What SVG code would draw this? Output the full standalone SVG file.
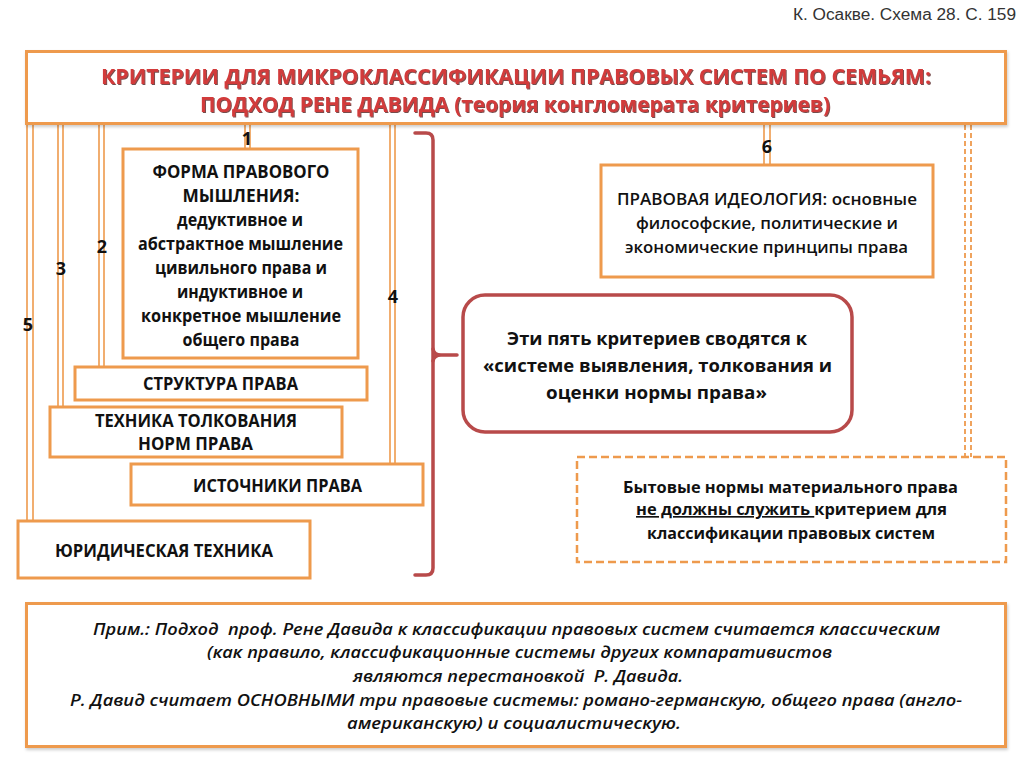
<svg xmlns="http://www.w3.org/2000/svg" width="1024" height="767" viewBox="0 0 1024 767">
<defs>
<filter id="sh" x="-3%" y="-10%" width="106%" height="125%"><feDropShadow dx="1" dy="2" stdDeviation="1.5" flood-color="#000" flood-opacity="0.2"/></filter>
<filter id="tsh" x="-5%" y="-50%" width="110%" height="200%"><feDropShadow dx="1" dy="1" stdDeviation="0.7" flood-color="#4a0d0d" flood-opacity="0.75"/></filter>
</defs>
<style>
.box{fill:#fff;stroke:#ee9a4d;stroke-width:3}
.dbl{fill:#fff;stroke:#ee9a4d;stroke-width:1.6}
.dash{fill:#fff;stroke:#ee9a4d;stroke-width:2.5;stroke-dasharray:8 4}
.dashl{fill:none;stroke:#ee9a4d;stroke-width:1.8;stroke-dasharray:5 3}
.br{fill:none;stroke:#b84a4a;stroke-width:3.5;stroke-linecap:round;stroke-linejoin:round}
.t{font-family:"Open Sans","Noto Sans",sans-serif;font-weight:700;fill:#111;text-anchor:middle}
.m{font-weight:600}
.s17{font-size:17px}
.s18{font-size:18px}
.s16{font-size:16.5px}
.num{font-family:"Open Sans","Noto Sans",sans-serif;font-weight:700;font-size:18px;fill:#111;text-anchor:middle}
.title{font-family:"Open Sans","Noto Sans",sans-serif;font-weight:700;font-size:21.5px;fill:#d23a3a;text-anchor:middle}
.note{font-family:"Open Sans","Noto Sans",sans-serif;font-style:italic;font-weight:600;font-size:16.5px;fill:#111;text-anchor:middle}
</style>
<rect x="0" y="0" width="1024" height="767" fill="#fff"/>
<text x="793" y="20" textLength="223" lengthAdjust="spacingAndGlyphs" font-family="Liberation Sans, Arial, sans-serif" font-size="16" fill="#333">К. Осакве. Схема 28. С. 159</text>

<g id="connectors">
<rect class="dbl" x="27" y="124" width="6" height="397"/>
<rect class="dbl" x="58" y="124" width="5" height="283"/>
<rect class="dbl" x="99" y="124" width="5" height="243"/>
<rect class="dbl" x="245" y="124" width="5" height="25"/>
<rect class="dbl" x="390" y="124" width="5" height="340"/>
<rect class="dbl" x="764" y="124" width="6" height="41"/>
<line class="dashl" x1="965" y1="125" x2="965" y2="457"/>
<line class="dashl" x1="971" y1="125" x2="971" y2="457"/>
<path class="br" d="M415 133 L426 133 Q433 133 433 140 L433 568 Q433 575 426 575 L415 575"/>
<path class="br" d="M433 349 Q434 355 441 355 L457 355 M433 361 Q434 355 441 355"/>
</g>

<g id="title">
<rect x="26.5" y="51.5" width="979" height="72" fill="#fff" stroke="#ee9a4d" stroke-width="3" filter="url(#sh)"/>
<g filter="url(#tsh)">
<text class="title" x="516" y="84" textLength="830" lengthAdjust="spacingAndGlyphs">КРИТЕРИИ ДЛЯ МИКРОКЛАССИФИКАЦИИ ПРАВОВЫХ СИСТЕМ ПО СЕМЬЯМ:</text>
<text class="title" x="515" y="112" textLength="630" lengthAdjust="spacingAndGlyphs">ПОДХОД РЕНЕ ДАВИДА (теория конгломерата критериев)</text>
</g>
</g>

<g id="labels">
<text class="num" x="247" y="145">1</text>
<text class="num" x="102" y="253">2</text>
<text class="num" x="61" y="275">3</text>
<text class="num" x="393" y="303">4</text>
<text class="num" x="28" y="331">5</text>
<text class="num" x="767" y="153">6</text>
</g>

<g id="node-forma">
<rect class="box" x="123" y="149" width="235" height="209"/>
<text class="t s18" x="241" y="178" textLength="177" lengthAdjust="spacingAndGlyphs">ФОРМА ПРАВОВОГО</text>
<text class="t s18" x="241" y="202" textLength="117" lengthAdjust="spacingAndGlyphs">МЫШЛЕНИЯ:</text>
<text class="t s18" x="240" y="226" textLength="126" lengthAdjust="spacingAndGlyphs">дедуктивное и</text>
<text class="t s18" x="240.5" y="250" textLength="205" lengthAdjust="spacingAndGlyphs">абстрактное мышление</text>
<text class="t s18" x="241" y="274" textLength="172" lengthAdjust="spacingAndGlyphs">цивильного права и</text>
<text class="t s18" x="240" y="298" textLength="126" lengthAdjust="spacingAndGlyphs">индуктивное и</text>
<text class="t s18" x="241" y="322" textLength="200" lengthAdjust="spacingAndGlyphs">конкретное мышление</text>
<text class="t s18" x="241" y="346" textLength="117" lengthAdjust="spacingAndGlyphs">общего права</text>
</g>

<g id="node-struktura">
<rect class="box" x="75" y="367" width="292" height="33"/>
<text class="t s17" x="220.5" y="390" textLength="155" lengthAdjust="spacingAndGlyphs">СТРУКТУРА ПРАВА</text>
</g>

<g id="node-tehnika">
<rect class="box" x="50" y="407" width="292" height="50"/>
<text class="t s17" x="196" y="427" textLength="202" lengthAdjust="spacingAndGlyphs">ТЕХНИКА ТОЛКОВАНИЯ</text>
<text class="t s17" x="195.5" y="450" textLength="115" lengthAdjust="spacingAndGlyphs">НОРМ ПРАВА</text>
</g>

<g id="node-istochniki">
<rect class="box" x="131" y="464" width="292" height="41"/>
<text class="t s17" x="277.5" y="492" textLength="169" lengthAdjust="spacingAndGlyphs">ИСТОЧНИКИ ПРАВА</text>
</g>

<g id="node-yurtehnika">
<rect class="box" x="18" y="521" width="292" height="57"/>
<text class="t s17" x="164" y="557" textLength="218" lengthAdjust="spacingAndGlyphs">ЮРИДИЧЕСКАЯ ТЕХНИКА</text>
</g>

<g id="node-ideologiya">
<rect class="box" x="601" y="165" width="332" height="112"/>
<text class="t m s16" x="767" y="205" textLength="300" lengthAdjust="spacingAndGlyphs">ПРАВОВАЯ ИДЕОЛОГИЯ: основные</text>
<text class="t m s16" x="767" y="229" textLength="262" lengthAdjust="spacingAndGlyphs">философские, политические и</text>
<text class="t m s16" x="766.5" y="253" textLength="283" lengthAdjust="spacingAndGlyphs">экономические принципы права</text>
</g>

<g id="node-summary">
<rect x="463" y="295" width="389" height="137" rx="22" ry="22" fill="#fff" stroke="#b84a4a" stroke-width="3.5"/>
<text class="t s18" x="657" y="345" textLength="300" lengthAdjust="spacingAndGlyphs">Эти пять критериев сводятся к</text>
<text class="t s18" x="657.5" y="372" textLength="349" lengthAdjust="spacingAndGlyphs">«системе выявления, толкования и</text>
<text class="t s18" x="656.5" y="399" textLength="221" lengthAdjust="spacingAndGlyphs">оценки нормы права»</text>
</g>

<g id="node-bytovye">
<rect class="dash" x="577" y="457" width="429" height="105"/>
<text class="t s16" x="790.5" y="493" textLength="335" lengthAdjust="spacingAndGlyphs">Бытовые нормы материального права</text>
<text class="t s16" x="791.5" y="515" textLength="311" lengthAdjust="spacingAndGlyphs" xml:space="preserve"><tspan text-decoration="underline">не должны служить </tspan>критерием для</text>
<text class="t s16" x="791" y="539" textLength="288" lengthAdjust="spacingAndGlyphs">классификации правовых систем</text>
</g>

<g id="node-note">
<rect x="26.5" y="603.5" width="979" height="143" fill="#fff" stroke="#ee9a4d" stroke-width="3" filter="url(#sh)"/>
<text class="note" x="516.5" y="635" textLength="847" lengthAdjust="spacingAndGlyphs" xml:space="preserve">Прим.: Подход  проф. Рене Давида к классификации правовых систем считается классическим</text>
<text class="note" x="519.5" y="658" textLength="625" lengthAdjust="spacingAndGlyphs">(как правило, классификационные системы других компаративистов</text>
<text class="note" x="518" y="682" textLength="330" lengthAdjust="spacingAndGlyphs" xml:space="preserve">являются перестановкой  Р. Давида.</text>
<text class="note" x="516" y="706" textLength="892" lengthAdjust="spacingAndGlyphs">Р. Давид считает ОСНОВНЫМИ три правовые системы: романо-германскую, общего права (англо-</text>
<text class="note" x="514" y="729" textLength="334" lengthAdjust="spacingAndGlyphs">американскую) и социалистическую.</text>
</g>
</svg>
